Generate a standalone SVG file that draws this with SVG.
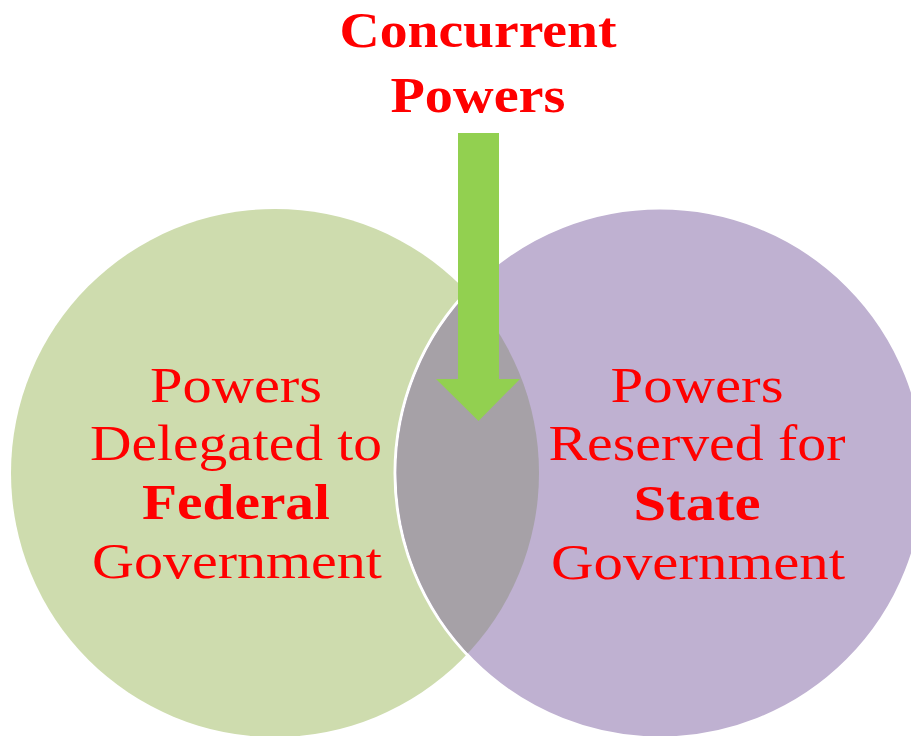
<svg xmlns="http://www.w3.org/2000/svg" width="911" height="736" viewBox="0 0 911 736">
<style>
.t{font-family:"Liberation Serif","Times New Roman",serif;fill:#ff0000;text-anchor:middle;font-size:50px}
.b{font-weight:bold}
</style>
<defs>
<clipPath id="leftClip"><circle cx="275" cy="473" r="264"/></clipPath>
</defs>
<rect width="911" height="736" fill="#ffffff"/>
<g id="federal">
<circle cx="275" cy="473" r="264" fill="#cedcae"/>
</g>
<g id="state">
<circle cx="660" cy="473" r="265" fill="#bfb1d1" stroke="#ffffff" stroke-width="3"/>
</g>
<g id="overlap">
<circle cx="660" cy="473" r="263.5" fill="#a6a1a7" clip-path="url(#leftClip)"/>
</g>
<g id="connectors">
<polygon points="458,133 499,133 499,379 520,379 478.5,421 436,379 458,379" fill="#92d050"/>
</g>
<g id="title">
<text class="t b" x="478" y="47" font-size="52" textLength="277" lengthAdjust="spacingAndGlyphs">Concurrent</text>
<text class="t b" x="478" y="112" font-size="52" textLength="175" lengthAdjust="spacingAndGlyphs">Powers</text>
</g>
<g id="federal-label">
<text class="t" x="236" y="402" textLength="172" lengthAdjust="spacingAndGlyphs">Powers</text>
<text class="t" x="236" y="460" textLength="292" lengthAdjust="spacingAndGlyphs">Delegated to</text>
<text class="t b" x="236" y="519" textLength="188" lengthAdjust="spacingAndGlyphs">Federal</text>
<text class="t" x="237" y="578" textLength="290" lengthAdjust="spacingAndGlyphs">Government</text>
</g>
<g id="state-label">
<text class="t" x="697" y="402" textLength="173" lengthAdjust="spacingAndGlyphs">Powers</text>
<text class="t" x="697" y="460" textLength="297" lengthAdjust="spacingAndGlyphs">Reserved for</text>
<text class="t b" x="697" y="520" textLength="127" lengthAdjust="spacingAndGlyphs">State</text>
<text class="t" x="698" y="579" textLength="294" lengthAdjust="spacingAndGlyphs">Government</text>
</g>
</svg>
